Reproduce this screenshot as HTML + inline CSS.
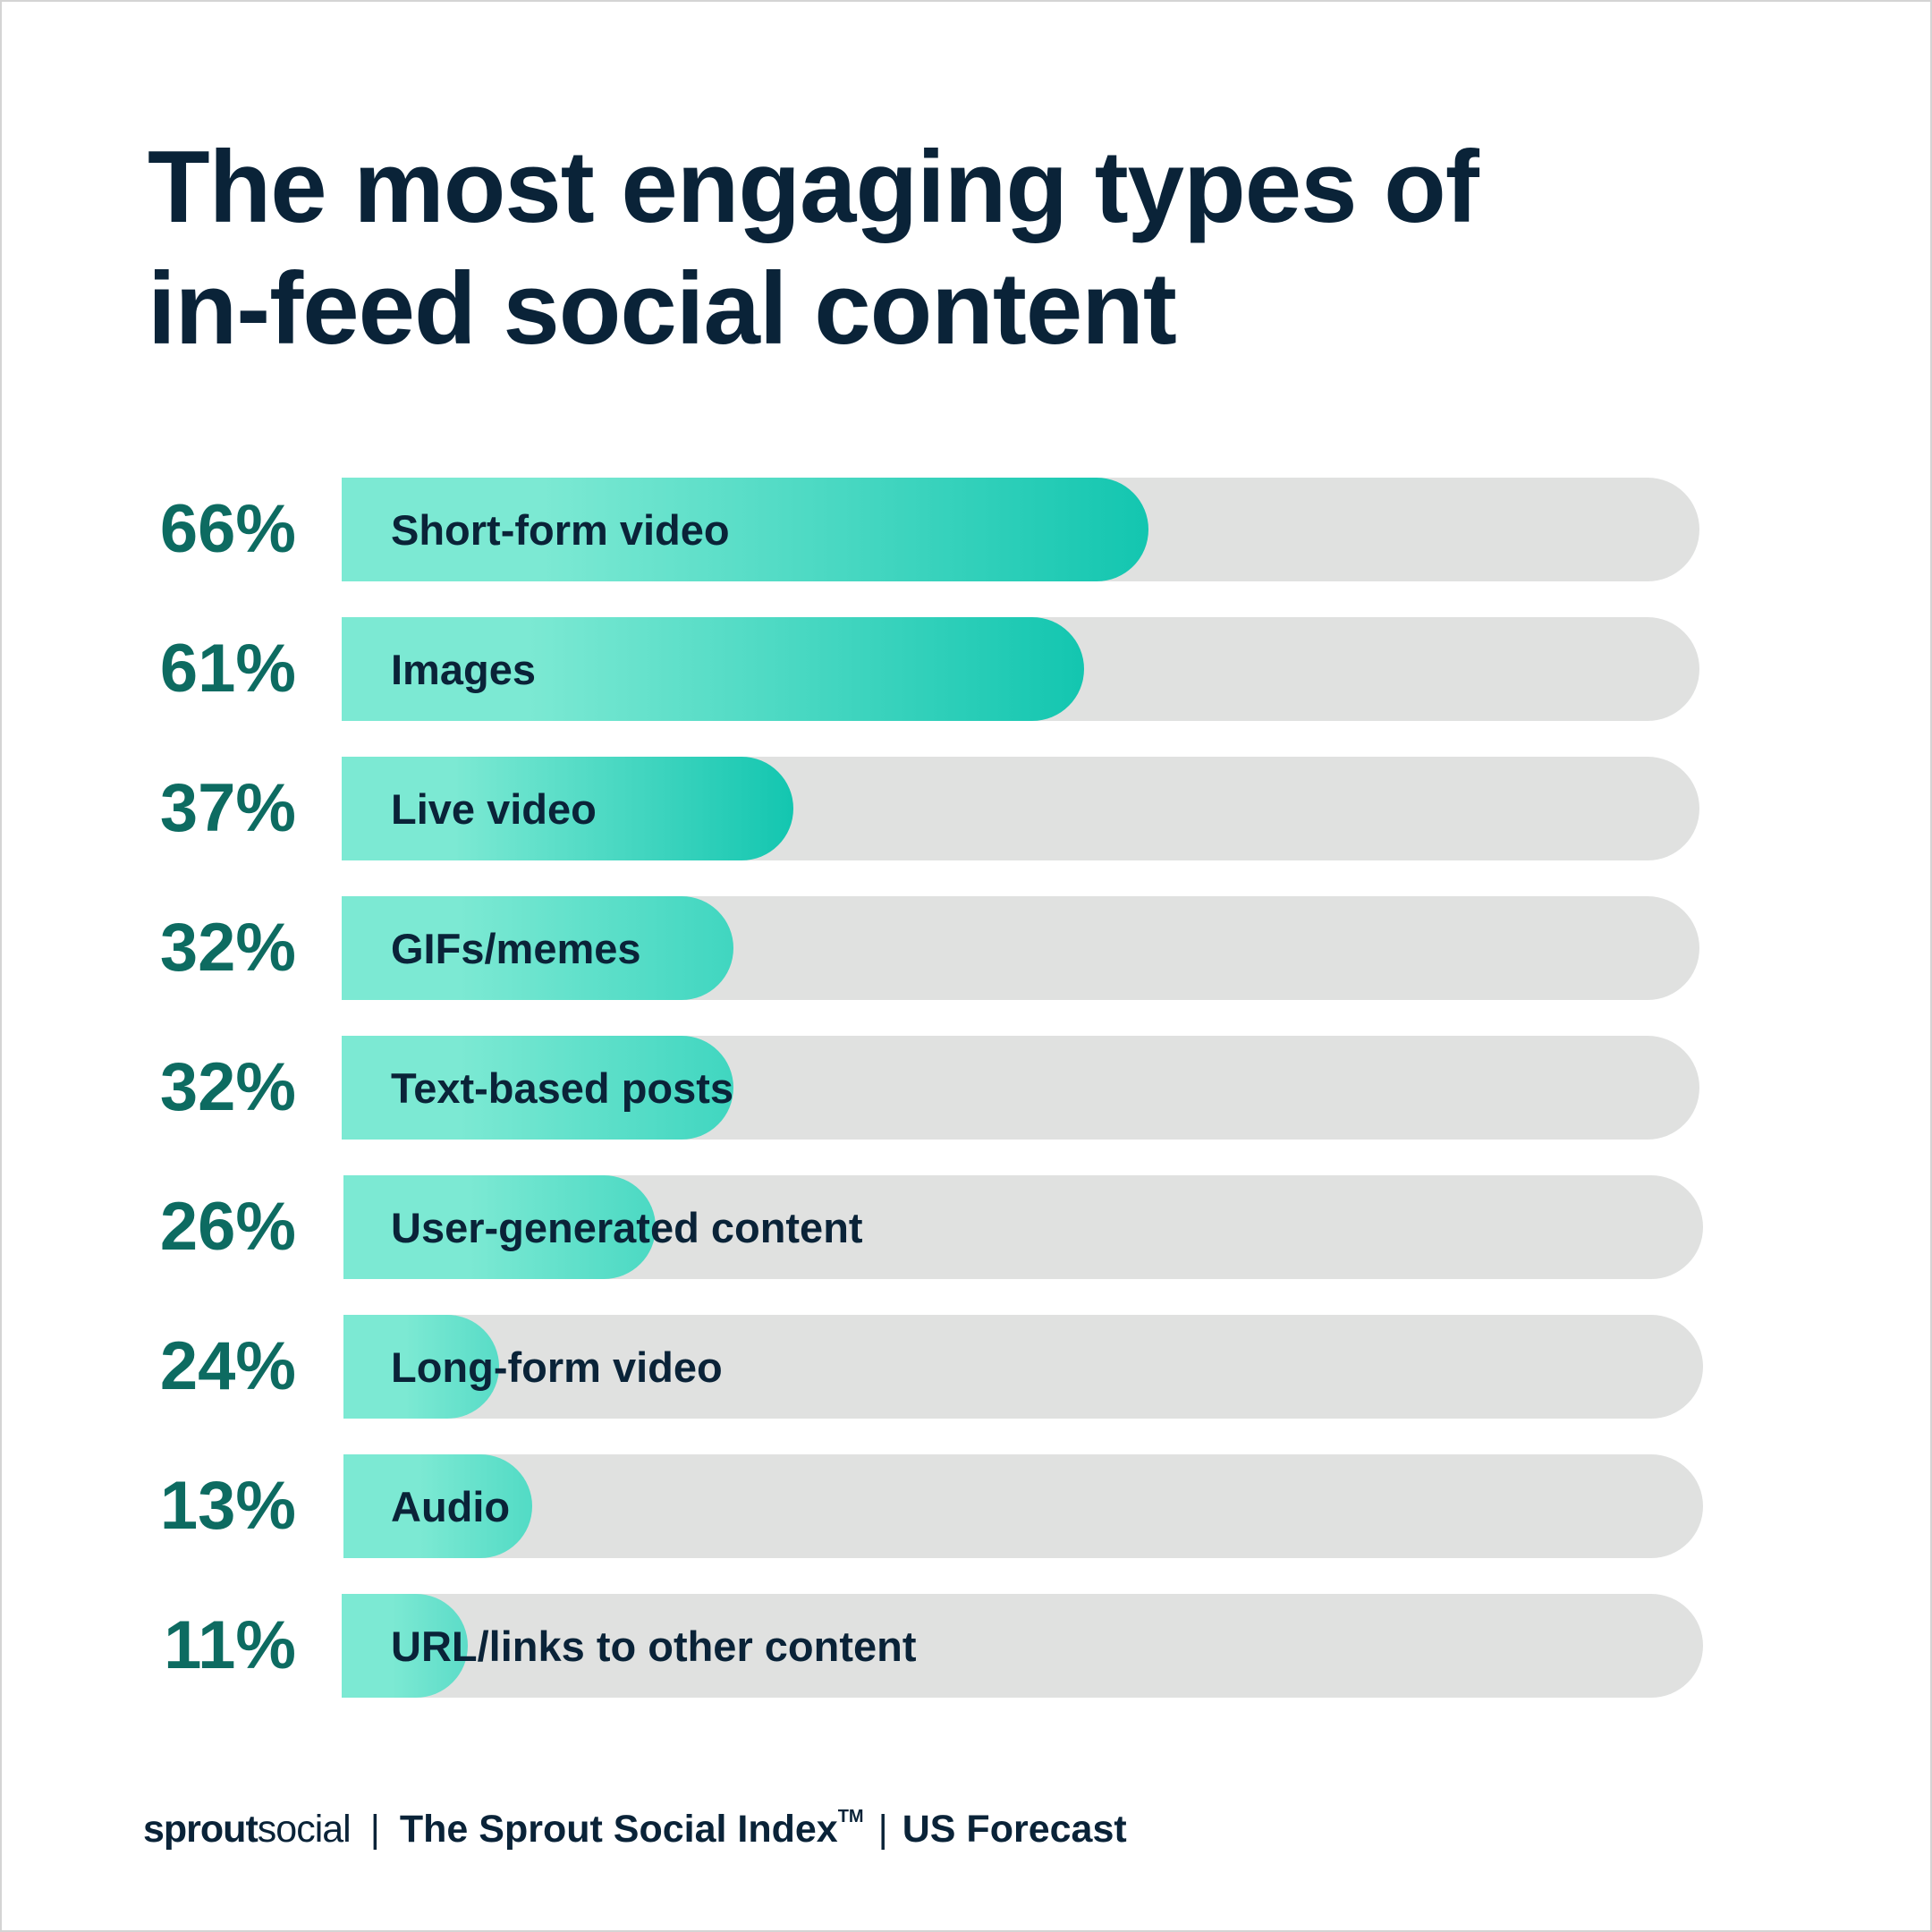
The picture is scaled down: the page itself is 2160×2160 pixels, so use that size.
<!DOCTYPE html>
<html><head><meta charset="utf-8"><style>
*{margin:0;padding:0;box-sizing:border-box}
body{width:2160px;height:2160px;background:#fff;position:relative;overflow:hidden;font-family:"Liberation Sans",sans-serif;color:#0a2338}
.frame{position:absolute;left:0;top:0;width:2160px;height:2160px;border:2px solid #d4d4d4}
h1{position:absolute;left:165px;top:142px;font-size:114px;line-height:136px;font-weight:bold;letter-spacing:-1px;color:#0a2338}
.row{position:absolute;height:116px}
.bg{position:absolute;top:0;height:116px;background:#e0e1e0;border-radius:0 58px 58px 0}
.fg{position:absolute;top:0;height:116px;border-radius:0 58px 58px 0;background:linear-gradient(90deg,#7ce9d3 0%,#7ce9d3 25%,#13c6b0 100%)}
.pct{position:absolute;right:1829px;width:220px;text-align:right;font-size:76px;font-weight:bold;color:#0d6b61;line-height:116px;letter-spacing:0px}
.lab{position:absolute;left:437px;font-size:47px;font-weight:bold;line-height:118px;color:#0a2338}
.foot{position:absolute;top:2020px;left:160px;font-size:43px;font-weight:bold;white-space:nowrap;color:#0a2338}
</style></head><body>
<div class="frame"></div>
<h1>The most engaging types of<br>in-feed social content</h1>

<div class="row" style="top:534px;left:0;width:2160px">
<div class="bg" style="left:382px;width:1518px"></div>
<div class="fg" style="left:382px;width:902px"></div>
<div class="pct">66%</div><div class="lab">Short-form video</div></div>

<div class="row" style="top:690px;left:0;width:2160px">
<div class="bg" style="left:382px;width:1518px"></div>
<div class="fg" style="left:382px;width:830px"></div>
<div class="pct">61%</div><div class="lab">Images</div></div>

<div class="row" style="top:846px;left:0;width:2160px">
<div class="bg" style="left:382px;width:1518px"></div>
<div class="fg" style="left:382px;width:505px"></div>
<div class="pct">37%</div><div class="lab">Live video</div></div>

<div class="row" style="top:1002px;left:0;width:2160px">
<div class="bg" style="left:382px;width:1518px"></div>
<div class="fg" style="left:382px;width:438px;background:linear-gradient(90deg,#7ce9d3 30%,#40d6c0 100%)"></div>
<div class="pct">32%</div><div class="lab">GIFs/memes</div></div>

<div class="row" style="top:1158px;left:0;width:2160px">
<div class="bg" style="left:382px;width:1518px"></div>
<div class="fg" style="left:382px;width:438px;background:linear-gradient(90deg,#7ce9d3 30%,#40d6c0 100%)"></div>
<div class="pct">32%</div><div class="lab">Text-based posts</div></div>

<div class="row" style="top:1314px;left:0;width:2160px">
<div class="bg" style="left:384px;width:1520px"></div>
<div class="fg" style="left:384px;width:349px;background:linear-gradient(90deg,#7ce9d3 40%,#4bd9c3 100%)"></div>
<div class="pct">26%</div><div class="lab">User-generated content</div></div>

<div class="row" style="top:1470px;left:0;width:2160px">
<div class="bg" style="left:384px;width:1520px"></div>
<div class="fg" style="left:384px;width:174px;background:linear-gradient(90deg,#7ce9d3 40%,#58dcc7 100%)"></div>
<div class="pct">24%</div><div class="lab">Long-form video</div></div>

<div class="row" style="top:1626px;left:0;width:2160px">
<div class="bg" style="left:384px;width:1520px"></div>
<div class="fg" style="left:384px;width:211px;background:linear-gradient(90deg,#7ce9d3 40%,#52dbc5 100%)"></div>
<div class="pct">13%</div><div class="lab">Audio</div></div>

<div class="row" style="top:1782px;left:0;width:2160px">
<div class="bg" style="left:382px;width:1522px"></div>
<div class="fg" style="left:382px;width:141px;background:linear-gradient(90deg,#7ce9d3 40%,#5cdcc8 100%)"></div>
<div class="pct">11%</div><div class="lab">URL/links to other content</div></div>

<div class="foot"><span style="letter-spacing:-1px">sprout</span><span style="font-weight:normal;letter-spacing:-1px">social</span><span style="font-weight:normal;margin:0 22px">|</span>The Sprout Social Index<sup style="font-size:20px;vertical-align:22px">TM</sup><span style="font-weight:normal;margin:0 16px">|</span>US Forecast</div>
</body></html>
